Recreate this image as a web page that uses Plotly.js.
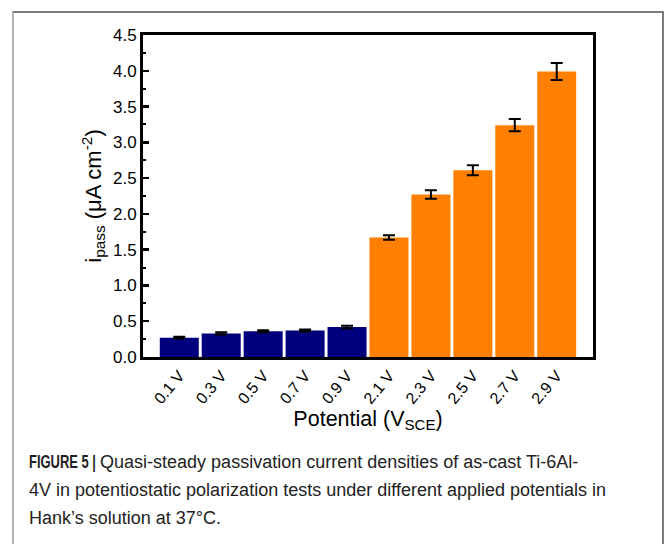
<!DOCTYPE html>
<html>
<head>
<meta charset="utf-8">
<script src="https://cdn.plot.ly/plotly-3.0.1.min.js"></script>
<style>
  html, body { margin: 0; padding: 0; background: #fff; width: 665px; height: 544px; overflow: hidden; }
  #frame { position: absolute; left: 12px; top: 11px; width: 648px; height: 560px;
           border-top: 2px solid #7a7a7a; border-left: 2px solid #b4b4b4; border-right: 2px solid #7a7a7a; box-sizing: content-box; }
  #chart { position: absolute; left: 0; top: 0; width: 665px; height: 544px; }
  #caption { position: absolute; left: 29px; top: 448px; width: 625px; white-space: nowrap;
             font-family: "Liberation Sans", Arial, sans-serif;
             font-size: 18px; line-height: 28px; color: #222; }
  #caption .fig { display: inline-block; font-weight: bold; transform: scaleX(0.72); transform-origin: left center; margin-right: -27px; }
</style>
</head>
<body>
<div id="frame"></div>
<div id="chart"></div>
<div id="caption"><span class="fig">FIGURE 5 |</span> Quasi-steady passivation current densities of as-cast Ti-6Al-<br>4V in potentiostatic polarization tests under different applied potentials in<br>Hank’s solution at 37°C.</div>
<script>
// Data
const lowLabels  = ["0.1 V", "0.3 V", "0.5 V", "0.7 V", "0.9 V"];
const lowValues  = [0.27, 0.33, 0.36, 0.37, 0.42];
const lowErrors  = [0.012, 0.015, 0.015, 0.015, 0.018];

const highLabels = ["2.1 V", "2.3 V", "2.5 V", "2.7 V", "2.9 V"];
const highValues = [1.67, 2.27, 2.61, 3.24, 3.99];
const highErrors = [0.03, 0.06, 0.07, 0.085, 0.12];

const allLabels = lowLabels.concat(highLabels);

const errStyle = (arr) => ({ type: "data", array: arr, visible: true, color: "#000", thickness: 2, width: 6 });

const traces = [
  { type: "bar", x: lowLabels, y: lowValues, error_y: errStyle(lowErrors),
    marker: { color: "#00007f", line: { width: 0 } }, showlegend: false, hoverinfo: "x+y" },
  { type: "bar", x: highLabels, y: highValues, error_y: errStyle(highErrors),
    marker: { color: "#ff8000", line: { width: 0 } }, showlegend: false, hoverinfo: "x+y" }
];

const fontFam = "Liberation Sans, Arial, Helvetica, sans-serif";

const layout = {
  width: 665, height: 544,
  paper_bgcolor: "rgba(0,0,0,0)", plot_bgcolor: "#fff",
  margin: { l: 143, r: 72, t: 35, b: 187, pad: 0 },
  barmode: "overlay",
  bargap: 0.07,
  font: { family: fontFam, color: "#000" },
  xaxis: {
    type: "category",
    categoryorder: "array", categoryarray: allLabels,
    range: [-0.865, 9.865],
    showline: true, linecolor: "#000", linewidth: 3, mirror: true,
    ticks: "", tickangle: -50,
    tickfont: { size: 16, family: fontFam },
    showgrid: false, zeroline: false,
    title: { text: "Potential (V<sub>SCE</sub>)", font: { size: 21.5, family: fontFam }, standoff: 5 }
  },
  yaxis: {
    range: [0, 4.5], dtick: 0.5, tick0: 0, tickformat: ".1f",
    showline: true, linecolor: "#000", linewidth: 3, mirror: true,
    ticks: "inside", ticklen: 6, tickwidth: 2.5, tickcolor: "#000",
    minor: { dtick: 0.25, ticks: "inside", ticklen: 3, tickwidth: 2, tickcolor: "#000" },
    tickfont: { size: 17, family: fontFam },
    showgrid: false, zeroline: false,
    title: { text: "i<sub>pass</sub> (μA cm<sup>-2</sup>)", font: { size: 22, family: fontFam }, standoff: 6 }
  }
};

Plotly.newPlot("chart", traces, layout, { staticPlot: true, displayModeBar: false });
</script>
</body>
</html>
